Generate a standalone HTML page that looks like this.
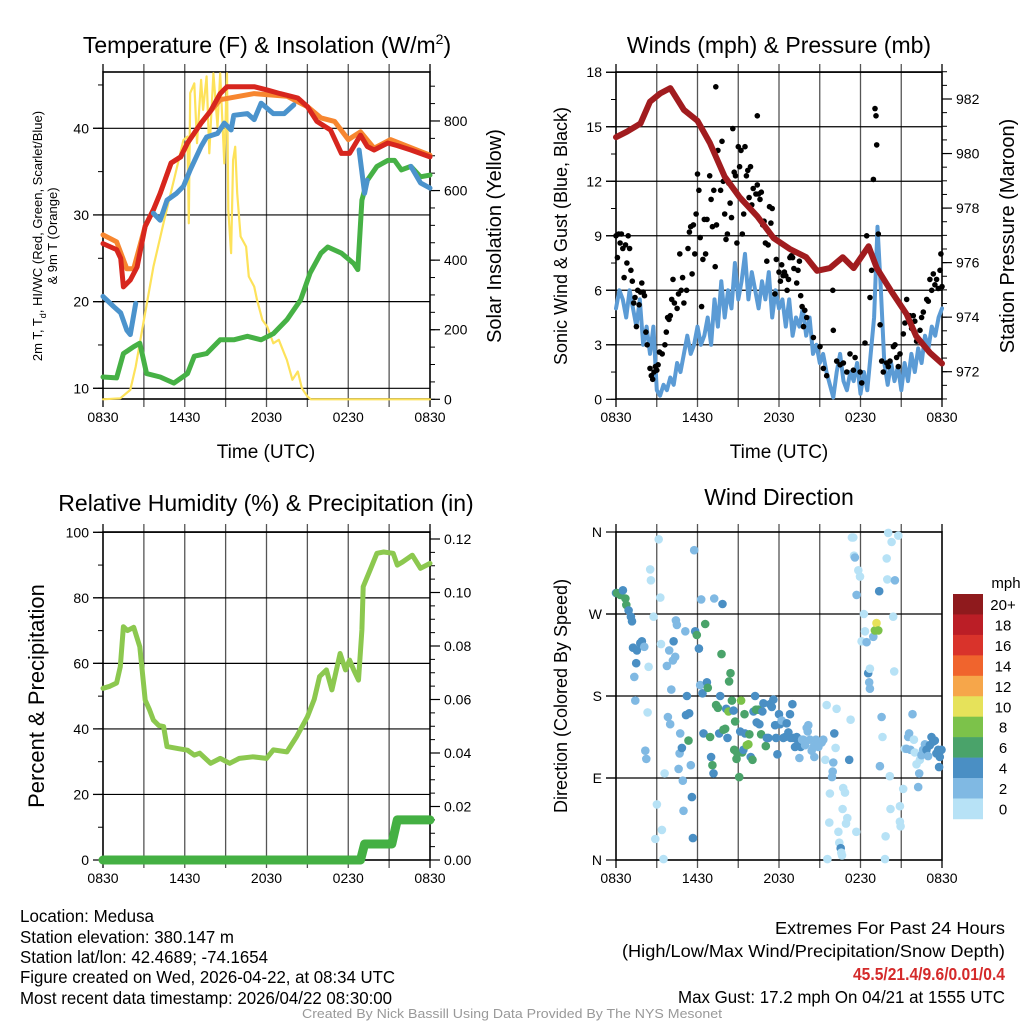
<!DOCTYPE html>
<html><head><meta charset="utf-8"><style>
html,body{margin:0;padding:0;background:#fff;}
svg{display:block;font-family:"Liberation Sans",Arial,sans-serif;}
.nar{font-family:"Liberation Sans Narrow","Liberation Sans",sans-serif;}
</style></head><body>
<svg id="s" width="1024" height="1024" viewBox="0 0 1024 1024" xmlns="http://www.w3.org/2000/svg">
<rect width="1024" height="1024" fill="#fff"/>
<g id="g"></g>
<text x="267" y="53" font-size="23" text-anchor="middle">Temperature (F) &amp; Insolation (W/m<tspan dy="-9" font-size="14">2</tspan><tspan dy="9">)</tspan></text>
<text x="779" y="53" font-size="23" text-anchor="middle">Winds (mph) &amp; Pressure (mb)</text>
<text x="266" y="511" font-size="23" text-anchor="middle">Relative Humidity (%) &amp; Precipitation (in)</text>
<text x="779" y="505" font-size="23" text-anchor="middle">Wind Direction</text>
<text x="266" y="458" font-size="19" text-anchor="middle">Time (UTC)</text>
<text x="779" y="458" font-size="19" text-anchor="middle">Time (UTC)</text>
<text transform="translate(42,236) rotate(-90)" font-size="13" text-anchor="middle">2m T, T<tspan dy="4" font-size="9">d</tspan><tspan dy="-4">, HI/WC (Red, Green, Scarlet/Blue)</tspan></text>
<text transform="translate(57,236) rotate(-90)" font-size="13" text-anchor="middle">&amp; 9m T (Orange)</text>
<text transform="translate(501,236) rotate(-90)" font-size="20" text-anchor="middle">Solar Insolation (Yellow)</text>
<text transform="translate(567,236) rotate(-90)" font-size="18" text-anchor="middle">Sonic Wind &amp; Gust (Blue, Black)</text>
<text transform="translate(1014,236) rotate(-90)" font-size="20" text-anchor="middle">Station Pressure (Maroon)</text>
<text transform="translate(44,696) rotate(-90)" font-size="22" text-anchor="middle">Percent &amp; Precipitation</text>
<text transform="translate(567,696) rotate(-90)" font-size="18" text-anchor="middle">Direction (Colored By Speed)</text>
<g class="nar" font-size="17.5">
<text x="20" y="922" textLength="134" lengthAdjust="spacingAndGlyphs">Location: Medusa</text>
<text x="20" y="943" textLength="214" lengthAdjust="spacingAndGlyphs">Station elevation: 380.147 m</text>
<text x="20" y="963" textLength="248" lengthAdjust="spacingAndGlyphs">Station lat/lon: 42.4689; -74.1654</text>
<text x="20" y="983" textLength="375" lengthAdjust="spacingAndGlyphs">Figure created on Wed, 2026-04-22, at 08:34 UTC</text>
<text x="20" y="1004" textLength="372" lengthAdjust="spacingAndGlyphs">Most recent data timestamp: 2026/04/22 08:30:00</text>
</g>
<g class="nar" font-size="17.5" text-anchor="end">
<text x="1005" y="934" textLength="230" lengthAdjust="spacingAndGlyphs">Extremes For Past 24 Hours</text>
<text x="1005" y="957" textLength="383" lengthAdjust="spacingAndGlyphs">(High/Low/Max Wind/Precipitation/Snow Depth)</text>
<text x="1005" y="980" textLength="152" lengthAdjust="spacingAndGlyphs" fill="#d42a2a" font-weight="bold">45.5/21.4/9.6/0.01/0.4</text>
<text x="1005" y="1003" textLength="327" lengthAdjust="spacingAndGlyphs">Max Gust: 17.2 mph On 04/21 at 1555 UTC</text>
</g>
<text class="nar" x="302" y="1018" font-size="13" fill="#999" textLength="420" lengthAdjust="spacingAndGlyphs">Created By Nick Bassill Using Data Provided By The NYS Mesonet</text>
</svg>
<script>
// ---------- data ----------
const xTickLabels=["0830","1430","2030","0230","0830"];
const redT=[0,1,1.3,1.5,2,2.5,3.1,3.7,4.2,5,5.7,6.2,7.2,7.9,8.6,9.1,10.1,11.1,12.1,13,14.3,15,15.7,16.7,17.5,18.1,18.9,19.4,19.9,20.9,21.6,22.6,24];
const redV=[26.7,26,25,21.7,22.5,24,28.7,30.6,32.5,36,36.7,38.3,40.6,42,44,44.8,44.8,44.8,44.4,44,43.5,42.5,40.8,39.8,37.1,37.1,39.2,37.9,37.5,38.3,38,37.5,36.7];
const orangeT=[0,1,1.75,2.25,3.1,3.7,4.2,5,5.7,6.2,7.2,7.9,8.6,11.1,13.5,15,16,17,18,18.9,19.9,21.1,24];
const orangeV=[27.7,26.9,23.8,23.8,28.7,30.6,32.5,36,36.7,38.3,40.6,42,43.3,44,43.7,42.5,41.2,40.8,38.7,39.6,37.7,38.7,36.9];
const blueT=[0,0.8,1.3,1.75,2,2.4,2.5,3.7,4.2,4.7,5.4,5.9,6.4,7.2,7.6,8.4,8.9,9.4,9.6,10.6,11.1,11.6,12.5,13.3,14,14.1,18.8,19.2,19.4,19.5,22.6,23.3,24];
const blueV=[20.6,19.4,18.7,16.7,16.2,19.8,null,30.2,29.4,31.7,32.5,33.3,35.2,37.9,39,39.4,40.6,39.8,41.5,41.7,41,42.9,41.7,41.7,42.7,null,37.5,32.5,34,null,35.6,33.7,33.1];
const greenT=[0,1,1.5,2.25,2.7,3.2,4.2,5.2,6.2,6.7,7.6,8.6,9.6,10.6,11.6,12.5,13.5,14.5,15.2,16,16.5,17.5,18.4,18.7,19,19.4,20.1,20.9,21.4,21.9,22.6,23.3,24];
const greenV=[11.3,11.2,14,14.8,15.2,11.7,11.3,10.6,11.7,13.7,14,15.6,15.6,16,15.6,16.3,17.9,20.2,23.3,25.6,26.3,25.6,24.4,23.7,31.7,34,35.6,36.3,36.3,35.2,35.6,34.4,34.6];
const solarT=[0,1.27,2,2.4,3,3.7,4.5,5.2,5.9,6.2,6.3,6.4,6.7,6.9,7.2,7.35,7.6,7.8,8.1,8.4,8.6,8.9,9.1,9.2,9.4,9.55,9.7,9.85,10.1,10.5,10.7,11.1,11.3,11.7,12.05,12.5,12.9,13.3,13.5,13.9,14.3,14.6,15,15.25,24];
const solarV=[0,3,27,94,228,381,516,630,745,755,506,880,908,736,918,832,928,707,937,784,937,678,937,544,420,688,726,592,468,439,353,324,286,228,209,161,171,132,113,56,80,32,8,0,0];
const pressT=[0,0.8,1.8,2.5,3.25,4,5,6,6.9,8,9.1,10.4,11.6,12.8,14,14.8,15.75,16.7,17.5,18.6,19.2,20.2,21.4,22.1,23.1,24];
const pressV=[980.6,980.8,981.1,981.9,982.2,982.4,981.6,981.2,980.4,979.15,978.4,977.7,976.9,976.5,976.2,975.7,975.8,976.2,975.8,976.6,975.8,975.0,974.1,973.3,972.7,972.3];
const windV=[5,6,5.5,4.5,6,5,4,5.5,3,4, 2.5,4,0.5,0.2,0.8,0.5,1.2,0.8,2,1.5, 2.5,3.5,2.5,3,4,3,3.5,4.5,3,5.5, 4,6.5,4.5,6,5,7.5,5.5,6.5,8,5.5, 7,6,5,6.5,5.5,7,4.5,6,5,5.5, 4,5.5,3.5,4.5,4,5,3.5,4.5,2.5,3, 2,2.5,1.5,0.8,0.1,1.5,2.5,1,0.5,1.5, 1,2,0.3,1.5,0.5,2.5,4.5,9.5,6,2, 0.8,2,1,1.8,0.5,2,1,2.5,1.5,2.8, 2,3.5,2.8,4,3.5,4.5,5];
const gustT=[0,0.1,0.2,0.3,0.4,0.5,0.6,0.7,0.8,0.9,1.0,1.1,1.2,1.3,1.4,1.5,1.6,1.7,1.8,1.9,2.0,2.1,2.2,2.3,2.5,2.6,2.7,2.8,2.9,3.0,3.1,3.2,3.4,3.6,3.7,3.8,3.9,4.0,4.1,4.2,4.3,4.5,4.6,4.7,4.8,4.9,5.0,5.2,5.3,5.4,5.5,5.6,5.7,5.8,5.9,6.0,6.1,6.2,6.3,6.4,6.5,6.6,6.7,6.9,7.0,7.1,7.2,7.3,7.4,7.5,7.35,7.7,7.8,7.9,8.0,8.1,8.2,8.3,8.4,8.5,8.6,8.7,8.8,8.9,9.0,9.1,9.2,9.3,9.4,9.5,9.6,9.7,9.8,9.9,10,10.1,10.4,10.3,10.4,10.5,10.6,10.7,10.8,10.9,11,11.1,11.2,11.3,11.4,11.5,11.7,11.8,12,12.1,12.2,12.3,12.4,12.5,12.6,12.7,12.8,12.9,13,13.1,13.2,13.3,13.4,13.5,13.6,13.7,13.8,13.9,14.04,14.53,15.02,15.27,15.51,15.96,16.0,16.25,16.5,16.74,16.99,17.23,17.48,17.6,17.97,18.09,18.33,18.46,18.7,18.82,18.95,19.07,19.14,19.19,19.31,19.44,19.56,19.68,19.93,20.05,20.17,20.42,20.54,20.66,20.78,20.91,21.15,21.27,21.4,21.64,21.76,21.89,22.0,22.13,22.38,22.5,22.62,22.87,22.99,23.11,23.24,23.36,23.48,23.6,23.73,23.85,23.92,24];
const gustV=[9,7.8,9.1,8.6,9.1,8.3,6.7,8.5,7.5,9,8.3,7.1,6.5,5.3,5.6,4,6,5.2,5.9,6.4,5.9,5.7,3.7,3,1.7,1.3,1.1,1.5,1.8,1.6,1.9,2.6,2.5,3,3.7,4.5,4.4,4.6,5.5,6.6,5.3,5,5.8,8,6,6.7,5.3,6,8.3,9.2,9.5,6.9,9.6,8,10.2,12.4,11.5,8.9,5.1,7.7,9.9,8.0,9.9,12.3,11,9.5,11.5,7.3,9.6,13.7,17.2,11.5,14.2,12,10.2,8.8,9.1,11.9,10.8,10,14.9,12.5,12.3,8.6,13.9,12.8,13.7,9.1,10.2,13.9,12.3,12.6,11.1,12.8,10.7,11.6,15.6,11.3,11.8,11.3,11,11.4,9.6,9.8,8.6,7.6,8.5,10.6,9.7,10.5,5.8,7.7,7,6.5,7.4,6.8,7,6.8,6.0,6.6,7.8,7.9,7.8,7.2,8.1,6.4,7.1,7.6,5.7,5.1,4,4.9,4.5,3.4,2.9,1.7,1.3,6,3.8,2.1,1.9,2,1.5,2.5,1.6,2.3,1.5,0.9,3.1,9,5.6,7.1,12.1,16,15.6,14,9.1,4.1,2.1,1.5,2,1.8,2.1,2.9,3,2.3,1.8,2.5,3.6,4.2,5.5,4.6,3.9,4.6,4.3,3.2,3.8,4.5,4.8,5.5,5.4,6.6,6,6.9,6.3,6.6,6.1,7.1,8,6.2];
const rhT=[0,0.5,1,1.27,1.5,1.8,2.25,2.7,3.1,3.4,3.7,4.1,4.45,4.7,5.5,6.2,6.7,7.1,7.9,8.6,9.3,10,11,12,12.5,13.5,14.2,15,15.5,15.9,16.4,16.8,17.4,17.8,18.1,18.4,18.75,19,19.1,19.6,20.1,20.6,21.3,21.6,22,22.7,23.3,24];
const rhV=[52.4,53,54,59,71.2,70,71,65.1,48.8,46,42.7,41,40.7,34.6,34,33.5,32,32.6,29.5,31,29.5,31,31.5,31,33.6,33,37.6,43.7,49,56,58,51.9,63,58,61,58,54.9,70.2,83.4,88.5,93.6,94,93.6,90,91,93,89,90.5];
const precipT=[0,18.9,19.2,21.2,21.6,24];
const precipV=[0,0,0.006,0.006,0.015,0.015];
const dirT=[0,0.07,0.32,0.51,0.69,0.76,0.93,1.1,1.18,1.25,1.54,1.79,1.91,2.08,1.49,1.35,1.42,2.33,2.4,2.52,2.57,2.77,2.16,2.23,3.14,3.26,3.31,3.58,3.01,3.38,2.89,3.5,3.75,3.92,4.07,3.82,3.99,4.41,4.48,4.24,4.36,4.19,4.73,4.68,4.61,4.85,4.92,4.97,5.1,5.22,5.15,5.39,5.34,5.51,5.59,5.66,5.76,5.83,5.95,6.1,6.2,6.27,6.37,6.44,6.57,6.69,6.76,6.93,7.0,7.1,7.18,7.23,7.37,7.5,7.6,7.67,7.77,7.84,7.91,8.04,8.11,8.21,8.28,8.33,8.43,8.53,8.65,8.7,8.77,8.87,8.94,9.07,9.14,9.21,9.29,9.38,9.46,9.5,9.63,9.75,9.82,9.92,10.05,10.12,10.24,10.31,10.36,10.49,10.56,10.68,10.78,10.85,11.03,11.1,11.22,11.34,11.47,11.59,11.71,11.78,11.88,12.0,12.08,12.2,12.32,12.45,12.57,12.69,12.81,12.86,12.99,13.06,13.18,13.3,13.43,13.5,13.6,13.7,13.79,13.92,14.04,14.11,14.16,14.28,14.41,14.53,14.6,14.72,14.9,15.14,15.26,15.41,15.51,15.56,15.7,15.75,15.9,15.95,16.0,16.07,16.17,16.24,16.37,16.44,16.54,16.59,16.64,16.68,16.73,16.86,16.93,17.03,17.17,17.27,17.37,17.47,17.52,17.59,17.71,17.84,17.96,17.69,18.08,18.25,18.33,18.45,18.57,18.64,18.69,18.69,18.94,19.06,19.18,19.31,19.38,19.43,19.55,19.62,19.8,19.85,19.93,19.97,20.04,20.16,20.21,20.29,20.41,20.53,20.48,20.78,20.9,20.9,20.95,21.14,21.27,21.39,21.51,21.58,21.68,21.83,21.93,22.0,22.12,22.25,22.32,22.37,22.49,22.61,22.74,22.86,22.98,23.1,23.23,23.35,23.47,23.59,23.72,23.79,23.84,23.96];
const dirDeg=[293,293,291,296,287,280,274,267,262,233,230,238,240,234,216,201,175,162,212,319,307,267,120,111,352,288,237,95,61,33,23,1,213,230,187,157,149,263,258,240,223,219,139,117,100,123,87,54,251,180,159,161,131,104,69,24,340,251,247,232,192,286,183,139,259,195,189,135,113,104,95,287,170,167,139,180,226,281,143,144,166,134,163,196,205,175,164,121,152,111,117,91,141,175,118,121,160,139,126,127,138,113,110,163,180,165,151,165,149,138,163,172,125,134,134,171,168,176,148,134,116,160,149,153,134,135,150,140,160,134,171,134,124,135,128,112,124,132,132,126,145,141,148,132,120,124,113,132,124,129,132,110,170,1,41,73,91,97,107,139,123,166,31,19,13,8,5,56,79,74,40,46,110,154,354,354,334,332,291,318,311,31,240,270,251,239,205,195,188,210,245,252,260,252,295,103,157,135,1,26,331,308,359,92,56,349,267,307,207,356,59,42,37,78,122,122,135,139,121,160,132,118,105,80,95,110,115,121,127,121,114,126,135,130,131,117,121,102,113,121];
const dirSpd=[5,7,7,5,7,7,5,5,5,5,5,5,5,3,5,3,3,1,1,1,1,1,3,3,1,1,1,1,1,1,1,1,3,3,3,3,3,3,3,5,3,3,3,3,3,5,3,3,3,5,5,5,7,3,5,5,3,5,7,5,3,3,5,5,7,5,7,7,5,7,5,3,7,7,5,5,7,5,7,7,5,5,9,7,7,7,5,7,7,7,7,7,5,9,7,5,7,5,9,9,7,5,7,5,5,7,5,7,5,7,5,5,7,5,5,5,5,5,5,5,5,5,5,3,5,5,5,5,5,5,5,5,5,5,5,3,5,3,3,3,3,3,3,3,3,3,3,3,3,3,3,1,1,1,1,1,3,3,3,5,1,1,1,1,5,1,1,1,1,1,1,1,5,1,1,1,1,3,3,1,1,1,1,1,1,3,5,3,3,1,3,9,11,9,5,3,3,1,1,1,1,1,1,1,1,1,1,3,1,1,1,1,1,1,1,3,3,3,3,3,1,1,1,3,3,1,3,3,3,5,3,5,5,5,5,5,5,5,5,5,5];
const cbLabels=["20+","18","16","14","12","10","8","6","4","2","0"];
const cbColors=["#8f1a1d","#bb1e26","#d9332b","#f0642d","#f6a64a","#e6e25a","#7cc24a","#4aa36a","#4a8fc4","#80b9e3","#b7e2f6"];

// ---------- scales ----------
const P1={x0:103,x1:430,y0:72,y1:399}, P2={x0:616,x1:942,y0:72,y1:399}, P3={x0:103,x1:430,y0:532,y1:860}, P4={x0:616,x1:942,y0:532,y1:860};
const tx=(P,t)=>P.x0+t/24*(P.x1-P.x0);
const y1L=v=>388.3-(v-10)*8.667, y1R=w=>399.3-w*0.3479;
const y2L=v=>399.3-v*18.17, y2R=p=>371.7-(p-972)*27.27;
const y3L=v=>860-v*3.277, y3R=p=>860-p*2675;
const y4=d=>860-d*0.9111;
const NS="http://www.w3.org/2000/svg", G=document.getElementById('g');
function el(tag,attrs,parent){const e=document.createElementNS(NS,tag);for(const k in attrs)e.setAttribute(k,attrs[k]);(parent||G).appendChild(e);return e;}
function line(x1,y1,x2,y2,c,w,p){return el('line',{x1,y1,x2,y2,stroke:c||'#000','stroke-width':w||1},p);}
function txt(x,y,s,anchor,size,p){const e=el('text',{x,y,'font-size':size||14,'text-anchor':anchor||'middle'},p);e.textContent=s;return e;}
function pathFrom(P,T,V,yf){let d='',pen=false;for(let i=0;i<T.length;i++){if(V[i]===null){pen=false;continue;}d+=(pen?'L':'M')+tx(P,T[i]).toFixed(1)+','+yf(V[i]).toFixed(1);pen=true;}return d;}
function series(P,T,V,yf,color,w,name){const e=el('path',{d:pathFrom(P,T,V,yf),fill:'none',stroke:color,'stroke-width':w,'stroke-linejoin':'round','stroke-linecap':'round'});

return e;}

function frame(P,hVals,yf,name){
  const g=el('g',{});
  
  
  for(let h=3;h<24;h+=3){const x=tx(P,h);line(x,P.y0-8,x,P.y1+8,'#555',1.3,g);}
  line(P.x0,P.y1,P.x0,P.y1+8,'#000',1.3,g);line(P.x1,P.y1,P.x1,P.y1+8,'#000',1.3,g);
  line(P.x0,P.y0-8,P.x0,P.y0,'#000',1.3,g);line(P.x1,P.y0-8,P.x1,P.y0,'#000',1.3,g);
  hVals.forEach(v=>{const y=yf(v);line(P.x0-10,y,P.x1,y,'#000',1.2,g);});
  el('rect',{x:P.x0,y:P.y0,width:P.x1-P.x0,height:P.y1-P.y0,fill:'none',stroke:'#000','stroke-width':1.6},g);
  xTickLabels.forEach((s,i)=>{const t=txt(tx(P,i*6),P.y1+23,s,'middle',14,g);
    
    });
  return g;
}
function leftTicks(P,vals,yf,minor,labels){
  minor.forEach(v=>{const y=yf(v);if(y>=P.y0-1&&y<=P.y1+1)line(P.x0-5,y,P.x0,y,'#000',1,null);});
  vals.forEach((v,i)=>{const y=yf(v);line(P.x0-10,y,P.x0,y,'#000',1.2);const t=txt(P.x0-14,y+5,labels[i],'end',14);
    
    });
}
function rightTicks(P,vals,yf,minor,labels){
  minor.forEach(v=>{const y=yf(v);if(y>=P.y0-1&&y<=P.y1+1)line(P.x1,y,P.x1+5,y,'#000',1);});
  vals.forEach((v,i)=>{const y=yf(v);line(P.x1,y,P.x1+10,y,'#000',1.2);const t=txt(P.x1+14,y+5,labels[i],'start',14);
    
    });
}
const rng=(a,b,s)=>{const r=[];for(let v=a;v<=b+1e-9;v+=s)r.push(+v.toFixed(4));return r;};

// Panel 1
frame(P1,[10,20,30,40],y1L,'temperature');
leftTicks(P1,[10,20,30,40],y1L,rng(5,45,5),["10","20","30","40"]);
rightTicks(P1,[0,200,400,600,800],y1R,rng(0,900,50),["0","200","400","600","800"]);
series(P1,solarT,solarV,y1R,'#fde25a',2.2,'solar-insolation-line');
series(P1,greenT,greenV,y1L,'#46b145',5,'dewpoint-line');
series(P1,orangeT,orangeV,y1L,'#f7862f',5,'temp-9m-line');
series(P1,redT,redV,y1L,'#d7261e',5,'temp-2m-line');
series(P1,blueT,blueV,y1L,'#4b93cc',5,'windchill-line');

// Panel 2
frame(P2,[3,6,9,12,15,18],y2L,'wind');
leftTicks(P2,[0,3,6,9,12,15,18],y2L,rng(0,18,1.5),["0","3","6","9","12","15","18"]);
rightTicks(P2,[972,974,976,978,980,982],y2R,rng(971,983,0.5),["972","974","976","978","980","982"]);
const windT=windV.map((v,i)=>i*0.25);
series(P2,windT,windV,y2L,'#5b9bd5',4,'sonic-wind-line');
gustT.forEach((t,i)=>{const c=el('circle',{cx:tx(P2,t).toFixed(1),cy:y2L(gustV[i]).toFixed(1),r:2.8,fill:'#000'});
  
  });
series(P2,pressT,pressV,y2R,'#a11c1f',6,'pressure-line');

// Panel 3
frame(P3,[20,40,60,80,100],y3L,'humidity');
leftTicks(P3,[0,20,40,60,80,100],y3L,rng(0,100,10),["0","20","40","60","80","100"]);
rightTicks(P3,[0,0.02,0.04,0.06,0.08,0.1,0.12],y3R,rng(0,0.12,0.005),["0.00","0.02","0.04","0.06","0.08","0.10","0.12"]);
series(P3,rhT,rhV,y3L,'#8cc84f',5,'relative-humidity-line');
series(P3,precipT,precipV,y3R,'#44b043',9,'precipitation-line');

// Panel 4
frame(P4,[90,180,270],y4,'direction');
leftTicks(P4,[0,90,180,270,360],y4,[],["N","E","S","W","N"]);
function spdColor(s){const idx=Math.min(10,Math.floor(s/2));return cbColors[10-idx];}
dirT.forEach((t,i)=>{const c=el('circle',{cx:tx(P4,t).toFixed(1),cy:y4(dirDeg[i]).toFixed(1),r:4.3,fill:spdColor(dirSpd[i])});
  
  });

// colorbar
const cb=el('g',{});


const cbTop=594,cbH=20.45;
cbColors.forEach((c,i)=>{el('rect',{x:953,y:cbTop+i*cbH,width:30,height:cbH+0.3,fill:c},cb);
  const t=txt(1003,cbTop+i*cbH+16,cbLabels[i],'middle',15,cb);
  
  });
const mph=txt(1006,588,'mph','middle',15,cb);


</script>
</body></html>
